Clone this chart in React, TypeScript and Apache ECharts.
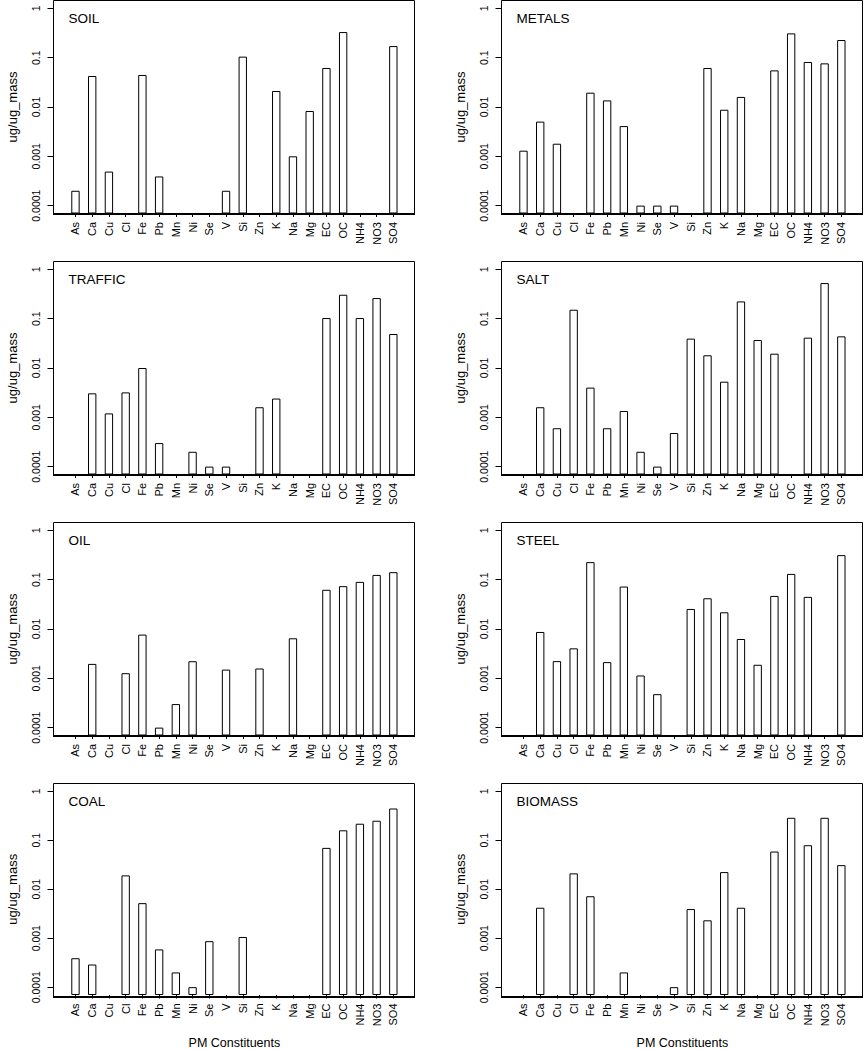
import React, { useEffect, useRef } from 'react';
import * as echarts from 'echarts';

const constituents = ['As', 'Ca', 'Cu', 'Cl', 'Fe', 'Pb', 'Mn', 'Ni', 'Se', 'V', 'Si', 'Zn', 'K', 'Na', 'Mg', 'EC', 'OC', 'NH4', 'NO3', 'SO4'];
const tickValues = [0.0001, 0.001, 0.01, 0.1, 1];
const tickLabels = ['0.0001', '0.001', '0.01', '0.1', '1'];
const panelNames = ['SOIL', 'METALS', 'TRAFFIC', 'SALT', 'OIL', 'STEEL', 'COAL', 'BIOMASS'];

const soil = [0.0002, 0.0425, 0.00049, null, 0.0446, 0.00039, null, null, null, 0.0002, 0.105, null, 0.0211, 0.001, 0.0083, 0.0618, 0.331, null, null, 0.172];
const metals = [0.0013, 0.00505, 0.0018, null, 0.0195, 0.0136, 0.0041, 0.0001, 0.0001, 0.0001, null, 0.0618, 0.0088, 0.016, null, 0.0553, 0.311, 0.0817, 0.0767, 0.228];
const traffic = [null, 0.00306, 0.0012, 0.0032, 0.01, 0.0003, null, 0.0002, 0.0001, 0.0001, null, 0.0016, 0.0024, null, null, 0.103, 0.306, 0.103, 0.262, 0.0489];
const salt = [null, 0.0016, 0.0006, 0.152, 0.004, 0.0006, 0.00134, 0.0002, 0.0001, 0.00048, 0.0394, 0.0181, 0.00528, 0.224, 0.037, 0.0195, null, 0.0412, 0.528, 0.0438];
const oil = [null, 0.00196, null, 0.00127, 0.0077, 0.0001, 0.0003, 0.00222, null, 0.0015, null, 0.00158, null, 0.00648, null, 0.0624, 0.074, 0.0903, 0.125, 0.142];
const steel = [null, 0.0087, 0.00223, 0.00405, 0.227, 0.00213, 0.0726, 0.00114, 0.000477, null, 0.0255, 0.042, 0.0218, 0.00627, 0.00188, 0.0469, 0.131, 0.0448, null, 0.315];
const coal = [0.00039, 0.00029, null, 0.0192, 0.0052, 0.00059, 0.0002, 0.0001, 0.00087, null, 0.00106, null, null, null, null, 0.07, 0.16, 0.218, 0.251, 0.446];
const biomass = [null, 0.00419, null, 0.0211, 0.0072, null, 0.0002, null, null, 0.0001, 0.00394, 0.00232, 0.0224, 0.00419, null, 0.0589, 0.288, 0.0793, 0.288, 0.0311];

const panelValues = [soil, metals, traffic, salt, oil, steel, coal, biomass];

const FONT = '"Liberation Sans", Arial, Helvetica, sans-serif';
const Y_MIN = Math.pow(10, -4.16);
const Y_MAX = Math.pow(10, 0.16);

const rowTops = [0.5, 261.5, 522.5, 783.5];
const boxLefts = [53.5, 501.5];
const BOX_W = 361;
const BOX_H = 213;
const BAND = 16.73;
const PAD_X = 13.6;

function yFormatter(v: number) {
  const lg = Math.log10(v);
  const k = Math.round(lg);
  if (Math.abs(lg - k) > 0.01) return '';
  return tickLabels[k + 4] ?? '';
}

export default function App() {
  const ref = useRef<HTMLDivElement>(null);
  useEffect(() => {
    if (!ref.current) return;
    const chart = echarts.init(ref.current, null, { renderer: 'svg' });
    const grids: any[] = [];
    const xAxes: any[] = [];
    const yAxes: any[] = [];
    const series: any[] = [];
    const titles: any[] = [];
    const graphics: any[] = [];

    panelValues.forEach((vals, i) => {
      const r = Math.floor(i / 2);
      const c = i % 2;
      const bl = boxLefts[c];
      const bt = rowTops[r];
      grids.push({ left: bl + PAD_X, top: bt, width: BAND * 20, height: BOX_H });
      xAxes.push({
        type: 'category',
        gridIndex: i,
        data: constituents,
        axisLine: { show: false },
        axisTick: { show: true, alignWithLabel: true, length: 3.5, lineStyle: { color: '#000', width: 1 } },
        axisLabel: { rotate: 90, interval: 0, fontSize: 11, color: '#000', margin: 8.5, fontFamily: FONT },
        name: r === 3 ? 'PM Constituents' : '',
        nameLocation: 'middle',
        nameGap: 41,
        nameTextStyle: { fontSize: 12.5, color: '#000', fontFamily: FONT },
      });
      yAxes.push({
        type: 'log',
        gridIndex: i,
        logBase: 10,
        min: Y_MIN,
        max: Y_MAX,
        startValue: Y_MIN,
        offset: PAD_X,
        axisLine: { show: false },
        axisTick: { show: true, length: 6, customValues: tickValues, lineStyle: { color: '#000', width: 1 } },
        axisLabel: { customValues: tickValues, rotate: 90, fontSize: 10.5, color: '#000', margin: 12, fontFamily: FONT, formatter: yFormatter },
        splitLine: { show: false },
        name: 'ug/ug_mass',
        nameLocation: 'middle',
        nameRotate: 90,
        nameGap: 34.5,
        nameTextStyle: { fontSize: 13, color: '#000', fontFamily: FONT },
      });
      series.push({
        type: 'bar',
        xAxisIndex: i,
        yAxisIndex: i,
        data: vals,
        barWidth: '50%',
        itemStyle: { color: '#fff', borderColor: '#000', borderWidth: 1 },
      });
      titles.push({
        text: panelNames[i],
        left: bl + 15,
        top: bt + 11,
        padding: 0,
        textStyle: { fontSize: 13.5, fontWeight: 'normal', color: '#000', fontFamily: FONT },
      });
      graphics.push({
        type: 'rect',
        shape: { x: bl, y: bt, width: BOX_W, height: BOX_H },
        style: { fill: 'none', stroke: '#000', lineWidth: 1 },
        z: 10,
      });
      graphics.push({
        type: 'line',
        shape: { x1: bl - 0.5, y1: bt + BOX_H + 0.5, x2: bl + BOX_W + 0.5, y2: bt + BOX_H + 0.5 },
        style: { stroke: '#000', lineWidth: 2 },
        z: 10,
      });
    });

    chart.setOption({
      animation: false,
      backgroundColor: '#fff',
      title: titles,
      grid: grids,
      xAxis: xAxes,
      yAxis: yAxes,
      series,
      graphic: graphics,
    });
    return () => chart.dispose();
  }, []);
  return <div ref={ref} style={{ position: 'absolute', left: 0, top: 0, width: 864, height: 1050 }} />;
}
